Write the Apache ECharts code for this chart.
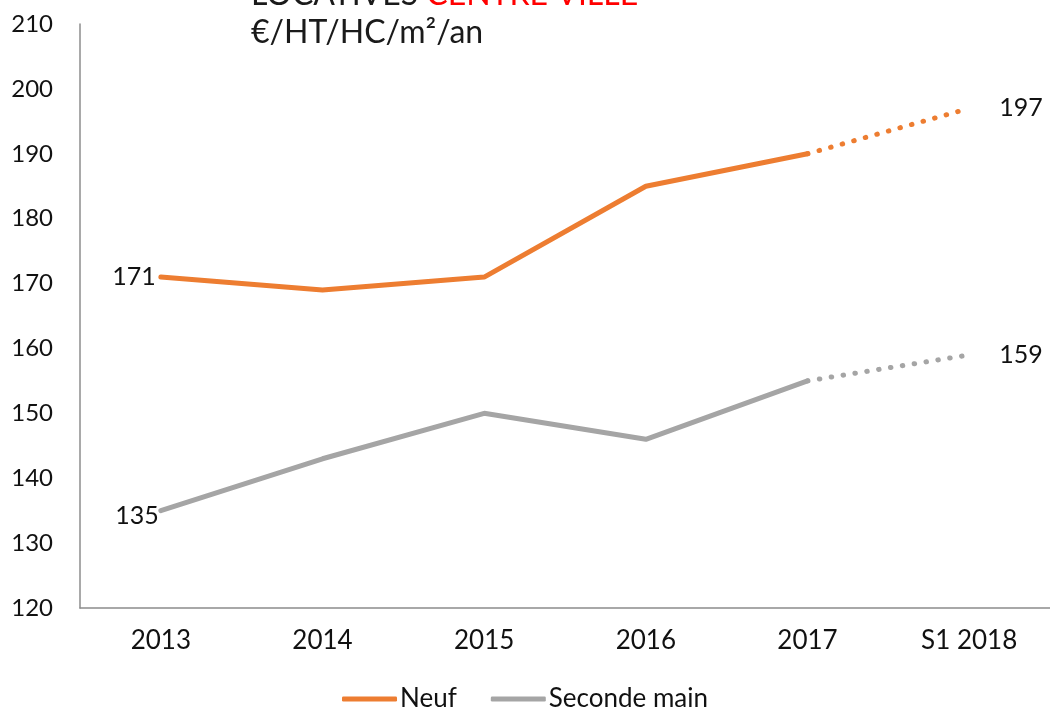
<!DOCTYPE html>
<html>
<head>
<meta charset="utf-8">
<script src="https://cdn.jsdelivr.net/npm/echarts@6/dist/echarts.min.js"></script>
<style>
  html,body{margin:0;padding:0;background:#fff;}
  #main{width:1050px;height:710px;}
</style>
</head>
<body>
<div id="main"></div>
<script>
// donnees
var categories = ['2013', '2014', '2015', '2016', '2017', 'S1 2018'];
var neuf = [171, 169, 171, 185, 190, 197];
var secondeMain = [135, 143, 150, 146, 155, 159];
var yTicks = [120, 130, 140, 150, 160, 170, 180, 190, 200, 210];

var FONT = 'Lato';
var ORANGE = '#ED7D31';
var GRIS = '#A5A5A5';

// partie pleine (jusqu'a 2017) et partie pointillee (2017 -> S1 2018)
function solid(arr){
  return arr.map(function(v,i){ return i < arr.length-1 ? v : '-'; });
}
function dotted(arr){
  return arr.map(function(v,i){ return i >= arr.length-2 ? v : '-'; });
}
// etiquette uniquement sur un point
function onlyAt(idx, pos, dist, off){
  return {show:true, position:pos, distance:dist, offset:off||[0,0],
    fontFamily:FONT, fontSize:25, color:'#111',
    formatter:function(p){ return p.dataIndex===idx ? String(p.value) : ''; }};
}

var myChart = echarts.init(document.getElementById('main'));
var option = {
  animation:false,
  title:{
    text:'{a|LOCATIVES }{b|CENTRE VILLE}\n{a|€/HT/HC/m²/an}',
    left:246, top:-29,
    textStyle:{
      rich:{
        a:{fontFamily:FONT, fontSize:32, fontWeight:'normal', color:'#1a1a1a', lineHeight:38},
        b:{fontFamily:FONT, fontSize:32, fontWeight:'normal', color:'#FF0000', lineHeight:38}
      }
    }
  },
  legend:{
    data:['Neuf','Seconde main'],
    bottom:-7, left:'center',
    itemWidth:55, itemHeight:5, itemGap:34,
    icon:'roundRect',
    textStyle:{fontFamily:FONT, fontSize:26, color:'#111', padding:[0,0,0,-2]}
  },
  grid:{left:80, top:24, width:974, height:584},
  xAxis:{
    type:'category',
    data:categories,
    boundaryGap:true,
    axisLine:{lineStyle:{color:'#8c8c8c', width:1.5}},
    axisTick:{show:false},
    axisLabel:{fontFamily:FONT, fontSize:26, color:'#111', margin:20}
  },
  yAxis:{
    type:'value',
    min:yTicks[0], max:yTicks[yTicks.length-1], interval:10,
    axisLine:{show:true, lineStyle:{color:'#8c8c8c', width:1.5}},
    axisTick:{show:false},
    splitLine:{show:false},
    axisLabel:{fontFamily:FONT, fontSize:24, color:'#111', margin:27}
  },
  series:[
    {name:'Neuf', type:'line', data:solid(neuf), symbol:'circle', symbolSize:0, color:ORANGE,
      lineStyle:{width:5, color:ORANGE, cap:'round'},
      label:onlyAt(0, 'left', 5)},
    {name:'Seconde main', type:'line', data:solid(secondeMain), symbol:'circle', symbolSize:0, color:GRIS,
      lineStyle:{width:5, color:GRIS, cap:'round'},
      label:onlyAt(0, 'left', 2, [0,5])},
    {name:'Neuf', type:'line', data:dotted(neuf), symbol:'circle', symbolSize:0, color:ORANGE,
      lineStyle:{width:5, color:ORANGE, type:[0.5,11.5], cap:'round'},
      label:onlyAt(neuf.length-1, 'right', 30)},
    {name:'Seconde main', type:'line', data:dotted(secondeMain), symbol:'circle', symbolSize:0, color:GRIS,
      lineStyle:{width:5, color:GRIS, type:[0.5,11.5], cap:'round'},
      label:onlyAt(secondeMain.length-1, 'right', 30)}
  ]
};
myChart.setOption(option);
</script>
</body>
</html>
